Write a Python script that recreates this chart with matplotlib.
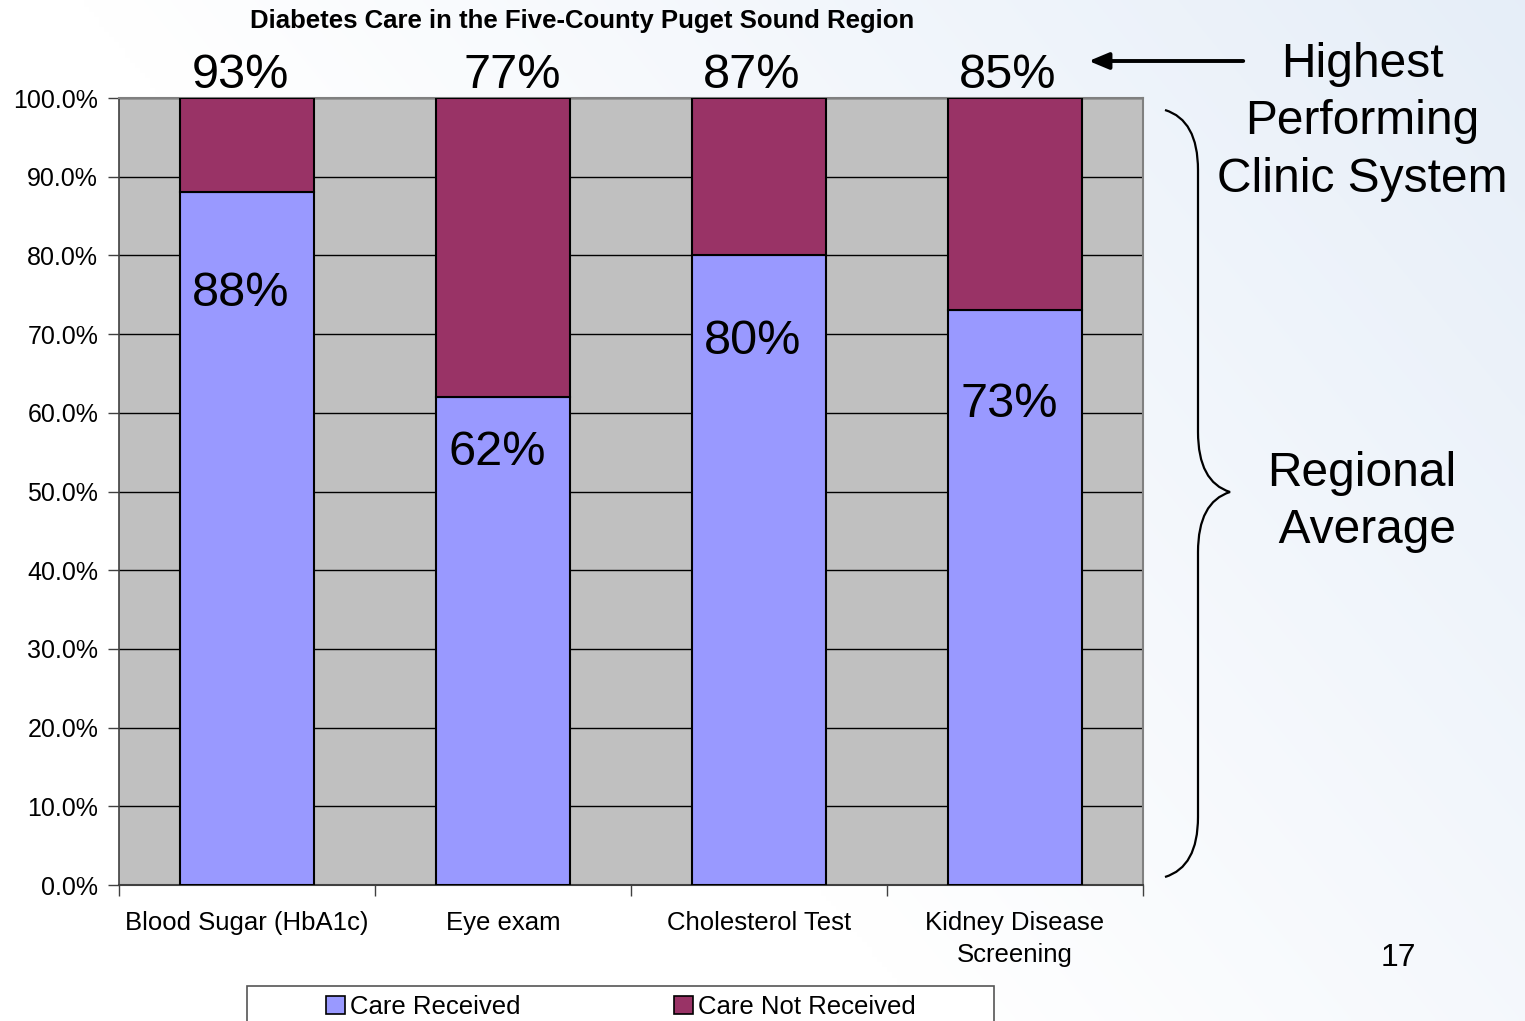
import numpy as np
import matplotlib
matplotlib.use("Agg")
import matplotlib.pyplot as plt
from matplotlib.patches import PathPatch, Patch, Rectangle, FancyArrowPatch
from matplotlib.path import Path

# ---- data ----
categories = ["Blood Sugar (HbA1c)", "Eye exam", "Cholesterol Test", "Kidney Disease\nScreening"]
care_received = [88, 62, 80, 73]
care_not_received = [12, 38, 20, 27]
highest_performing = [93, 77, 87, 85]
series_names = ["Care Received", "Care Not Received"]
y_ticks = [0, 10, 20, 30, 40, 50, 60, 70, 80, 90, 100]

# ---- layout / style ----
inner_label_y = [75.2, 54.9, 69.1, 61.0]
top_label_dx = [-0.024, 0.035, -0.027, -0.027]
col_recv = "#9999FF"
col_not = "#993366"
FONT = ["Liberation Sans", "DejaVu Sans"]
plt.rcParams["font.family"] = FONT

W, H = 1525, 1021
fig = plt.figure(figsize=(W / 100, H / 100), dpi=100)

# soft bluish wash towards the upper right
bg = fig.add_axes([0, 0, 1, 1], zorder=-10)
xx, yy = np.meshgrid(np.linspace(0, 1, 300), np.linspace(0, 1, 200))
strength = np.clip((xx * 0.9 + (1 - yy) * 0.5 - 0.55) / 0.85, 0, 1)
base = np.array([1.0, 1.0, 1.0])
tint = np.array([0.902, 0.933, 0.973])
img = base[None, None, :] * (1 - strength[..., None]) + tint[None, None, :] * strength[..., None]
bg.imshow(img, aspect="auto", extent=[0, 1, 0, 1], origin="upper", interpolation="bilinear")
bg.set_axis_off()


def fx(px):
    return px / W


def fy(py):
    return 1 - py / H


ax = fig.add_axes([fx(119), fy(885), fx(1143) - fx(119), fy(98) - fy(885)])
ax.set_facecolor("#C0C0C0")

x = np.arange(len(categories))
bw = 0.527
ax.bar(x, care_received, bw, color=col_recv, edgecolor="black", linewidth=1.5,
       label=series_names[0], zorder=3)
ax.bar(x, care_not_received, bw, bottom=care_received, color=col_not, edgecolor="black",
       linewidth=1.5, label=series_names[1], zorder=3)

ax.set_xlim(-0.5, len(categories) - 0.5)
ax.set_ylim(0, 100)
ax.set_yticks(y_ticks)
ax.set_yticklabels([f"{v:.1f}%" for v in y_ticks], fontsize=18)
ax.yaxis.grid(True, color="black", linewidth=1.0, zorder=1)
ax.set_axisbelow(True)
ax.tick_params(axis="y", length=8, width=1, color="#404040", pad=7)

ax.set_xticks(x)
ax.set_xticklabels(categories, fontsize=18.5, linespacing=1.38)
ax.set_xticks(np.arange(-0.5, len(categories)), minor=True)
ax.tick_params(axis="x", which="major", length=0, pad=19)
ax.tick_params(axis="x", which="minor", length=8, width=1, color="#404040")

for side in ["top", "right"]:
    ax.spines[side].set_color("#808080")
    ax.spines[side].set_linewidth(1.5)
ax.spines["left"].set_color("#404040")
ax.spines["bottom"].set_color("#404040")
ax.spines["left"].set_linewidth(1.2)
ax.spines["bottom"].set_linewidth(1.5)

# value labels
for xi, v, hp, ly, dx in zip(x, care_received, highest_performing, inner_label_y, top_label_dx):
    ax.text(xi - 0.024, ly, f"{v}%", ha="center", va="center", fontsize=35, zorder=5)
    ax.text(xi + dx, 101.3, f"{hp}%", ha="center", va="baseline", fontsize=35,
            zorder=5, clip_on=False)

fig.text(fx(582), fy(21), "Diabetes Care in the Five-County Puget Sound Region",
         ha="center", va="center", fontsize=18.5, fontweight="bold")

# right-hand annotations
fig.text(fx(1362), fy(122), "Highest\nPerforming\nClinic System", ha="center", va="center",
         fontsize=34.5, linespacing=1.37)
fig.text(fx(1362), fy(502), "Regional\n Average", ha="center", va="center",
         fontsize=34.5, linespacing=1.37)
fig.text(fx(1398), fy(958), "17", ha="center", va="center", fontsize=23)

fig.patches.append(FancyArrowPatch(
    (fx(1246), fy(61)), (fx(1086), fy(61)), transform=fig.transFigure,
    arrowstyle="-|>,head_length=12,head_width=5", mutation_scale=1,
    color="black", linewidth=2.8))

# curly brace
bx0, bx1, bxm = 1165, 1198, 1230
by0, bym, by1 = 110, 492, 877
pts = [
    (bx0, by0), (bx1, by0 + 10), (bx1, by0 + 60),
    (bx1, bym - 60), (bx1, bym - 10), (bxm, bym),
    (bx1, bym + 10), (bx1, bym + 60),
    (bx1, by1 - 60), (bx1, by1 - 10), (bx0, by1),
]
verts = [(fx(a), fy(b)) for a, b in pts]
codes = [Path.MOVETO, Path.CURVE3, Path.CURVE3, Path.LINETO, Path.CURVE3, Path.CURVE3,
         Path.CURVE3, Path.CURVE3, Path.LINETO, Path.CURVE3, Path.CURVE3]
fig.patches.append(PathPatch(Path(verts, codes), transform=fig.transFigure,
                             facecolor="none", edgecolor="black", linewidth=1.6))

# legend box (runs past the lower edge of the figure)
fig.patches.append(Rectangle((fx(247), fy(1060)), fx(994) - fx(247), fy(986) - fy(1060),
                             transform=fig.transFigure, facecolor="white",
                             edgecolor="#555555", linewidth=1.2, zorder=4))
handles = [Patch(facecolor=col_recv, edgecolor="black", linewidth=1.2),
           Patch(facecolor=col_not, edgecolor="black", linewidth=1.2)]
leg = fig.legend(handles, series_names, loc="center", ncol=2,
                 bbox_to_anchor=(fx(621), fy(1007)),
                 frameon=False, fontsize=18.5,
                 handlelength=0.72, handleheight=0.72, handletextpad=0.2,
                 columnspacing=6.0, borderpad=0, borderaxespad=0)
leg.set_zorder(5)

fig.savefig("out.png", dpi=100)
